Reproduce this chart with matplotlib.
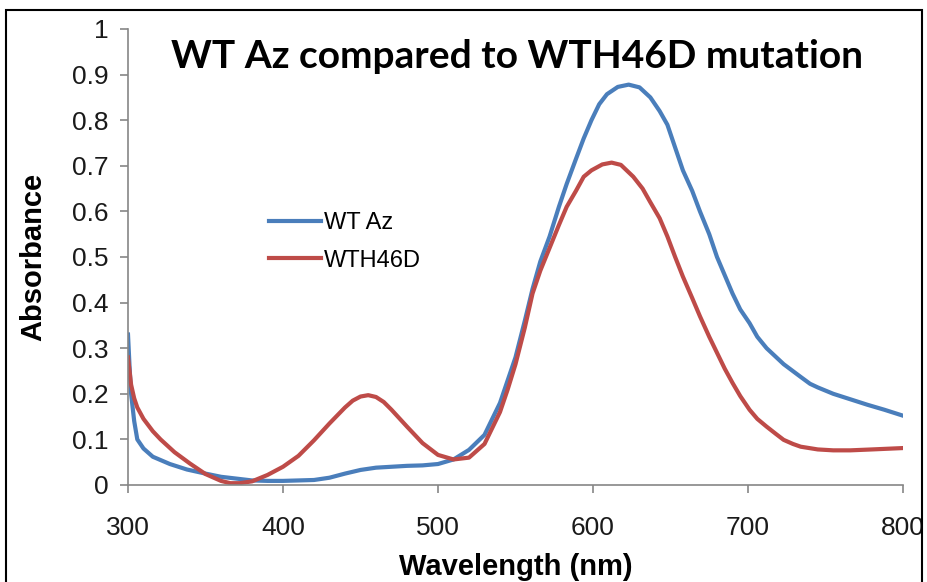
import matplotlib
matplotlib.use("Agg")
import matplotlib.pyplot as plt
from matplotlib.patches import Rectangle

# WT Az spectrum
wt_wl = [300, 301, 302, 304, 306, 310, 316, 327, 338, 350, 360, 370, 380, 390, 400, 410,
         420, 430, 440, 450, 460, 470, 480, 490, 500, 510, 520, 530, 540, 545, 550, 556,
         561, 566, 572, 578, 583, 589, 594, 599, 604, 609, 616, 623, 630, 637, 643, 648,
         653, 658, 664, 669, 675, 680, 685, 690, 695, 701, 706, 712, 723, 734, 740, 745,
         755, 766, 777, 788, 800]
wt_abs = [0.33, 0.26, 0.20, 0.14, 0.10, 0.08, 0.062, 0.046, 0.034, 0.025, 0.018, 0.014,
          0.01, 0.009, 0.009, 0.01, 0.011, 0.016, 0.025, 0.033, 0.038, 0.04, 0.042, 0.043,
          0.046, 0.056, 0.077, 0.11, 0.18, 0.23, 0.28, 0.36, 0.43, 0.49, 0.545, 0.61, 0.66,
          0.715, 0.76, 0.80, 0.835, 0.857, 0.873, 0.878, 0.872, 0.85, 0.82, 0.79, 0.74,
          0.69, 0.645, 0.60, 0.55, 0.50, 0.46, 0.42, 0.385, 0.355, 0.325, 0.30, 0.265,
          0.237, 0.222, 0.214, 0.20, 0.188, 0.176, 0.165, 0.152]

# WTH46D spectrum
mut_wl = [300, 302, 304, 306, 310, 316, 321, 330, 340, 350, 360, 366, 372, 380, 390, 400,
          410, 420, 430, 440, 445, 450, 455, 460, 465, 470, 480, 490, 500, 510, 520, 530,
          540, 545, 550, 556, 561, 566, 572, 578, 583, 589, 594, 599, 606, 612, 618, 626,
          632, 637, 643, 648, 653, 658, 664, 669, 675, 680, 685, 690, 695, 701, 706, 712,
          718, 723, 729, 734, 745, 755, 766, 780, 800]
mut_abs = [0.28, 0.22, 0.19, 0.17, 0.145, 0.118, 0.10, 0.072, 0.047, 0.024, 0.009, 0.004,
           0.004, 0.008, 0.022, 0.04, 0.064, 0.098, 0.135, 0.17, 0.185, 0.194, 0.197,
           0.193, 0.182, 0.165, 0.128, 0.092, 0.066, 0.056, 0.06, 0.09, 0.16, 0.21, 0.265,
           0.345, 0.42, 0.47, 0.52, 0.57, 0.61, 0.645, 0.676, 0.69, 0.703, 0.707, 0.702,
           0.676, 0.65, 0.62, 0.585, 0.545, 0.50, 0.457, 0.41, 0.37, 0.325, 0.29, 0.255,
           0.224, 0.195, 0.165, 0.145, 0.128, 0.112, 0.099, 0.09, 0.084, 0.078, 0.076,
           0.076, 0.078, 0.081]

x_ticks = [300, 400, 500, 600, 700, 800]
y_ticks = [0, 0.1, 0.2, 0.3, 0.4, 0.5, 0.6, 0.7, 0.8, 0.9, 1]
y_tick_labels = ["0", "0.1", "0.2", "0.3", "0.4", "0.5", "0.6", "0.7", "0.8", "0.9", "1"]

SANS = "Liberation Sans"
BLUE = "#4a7ebb"
RED = "#be4b48"
GRID = "#868686"


def main() -> None:
    fig = plt.figure(figsize=(9.27, 5.82), dpi=100)
    ax = fig.add_axes([128 / 927, 1 - 485 / 582, 775 / 927, 456 / 582])

    ax.plot(wt_wl, wt_abs, color=BLUE, lw=3, label="WT Az", solid_joinstyle="round")
    ax.plot(mut_wl, mut_abs, color=RED, lw=3, label="WTH46D", solid_joinstyle="round")

    ax.set_xlim(300, 800)
    ax.set_ylim(0, 1)
    ax.set_xticks(x_ticks)
    ax.set_yticks(y_ticks, y_tick_labels)
    for sp in ["top", "right"]:
        ax.spines[sp].set_visible(False)
    for sp in ["left", "bottom"]:
        ax.spines[sp].set_color(GRID)
        ax.spines[sp].set_linewidth(1.2)
    ax.tick_params(direction="out", length=6, width=1.2, color=GRID,
                   labelsize=19, labelcolor="#1a1a1a")
    for lab in ax.get_xticklabels() + ax.get_yticklabels():
        lab.set_fontfamily(SANS)
    ax.tick_params(axis="x", pad=16)
    ax.tick_params(axis="y", pad=8)

    ax.set_xlabel("Wavelength (nm)", fontfamily=SANS, fontweight="bold",
                  fontsize=21, labelpad=10)
    ax.set_ylabel("Absorbance", fontfamily=SANS, fontweight="bold",
                  fontsize=21, labelpad=18)

    fig.text(517 / 927, 1 - 57 / 582, "WT Az compared to WTH46D mutation",
             fontfamily="Lato", fontweight="bold", fontsize=28,
             ha="center", va="center")

    ax.legend(loc="center left", bbox_to_anchor=(0.155, 0.533), frameon=False,
              prop={"family": SANS, "size": 17},
              handlelength=2.2, handletextpad=0.1, labelspacing=0.65)

    fig.add_artist(Rectangle((6 / 927, -0.02), 916 / 927, 1.02 - 10 / 582,
                             transform=fig.transFigure, fill=False,
                             edgecolor="black", lw=1.5))

    fig.savefig("out.png", dpi=100)
    plt.close(fig)


if __name__ == "__main__":
    main()
